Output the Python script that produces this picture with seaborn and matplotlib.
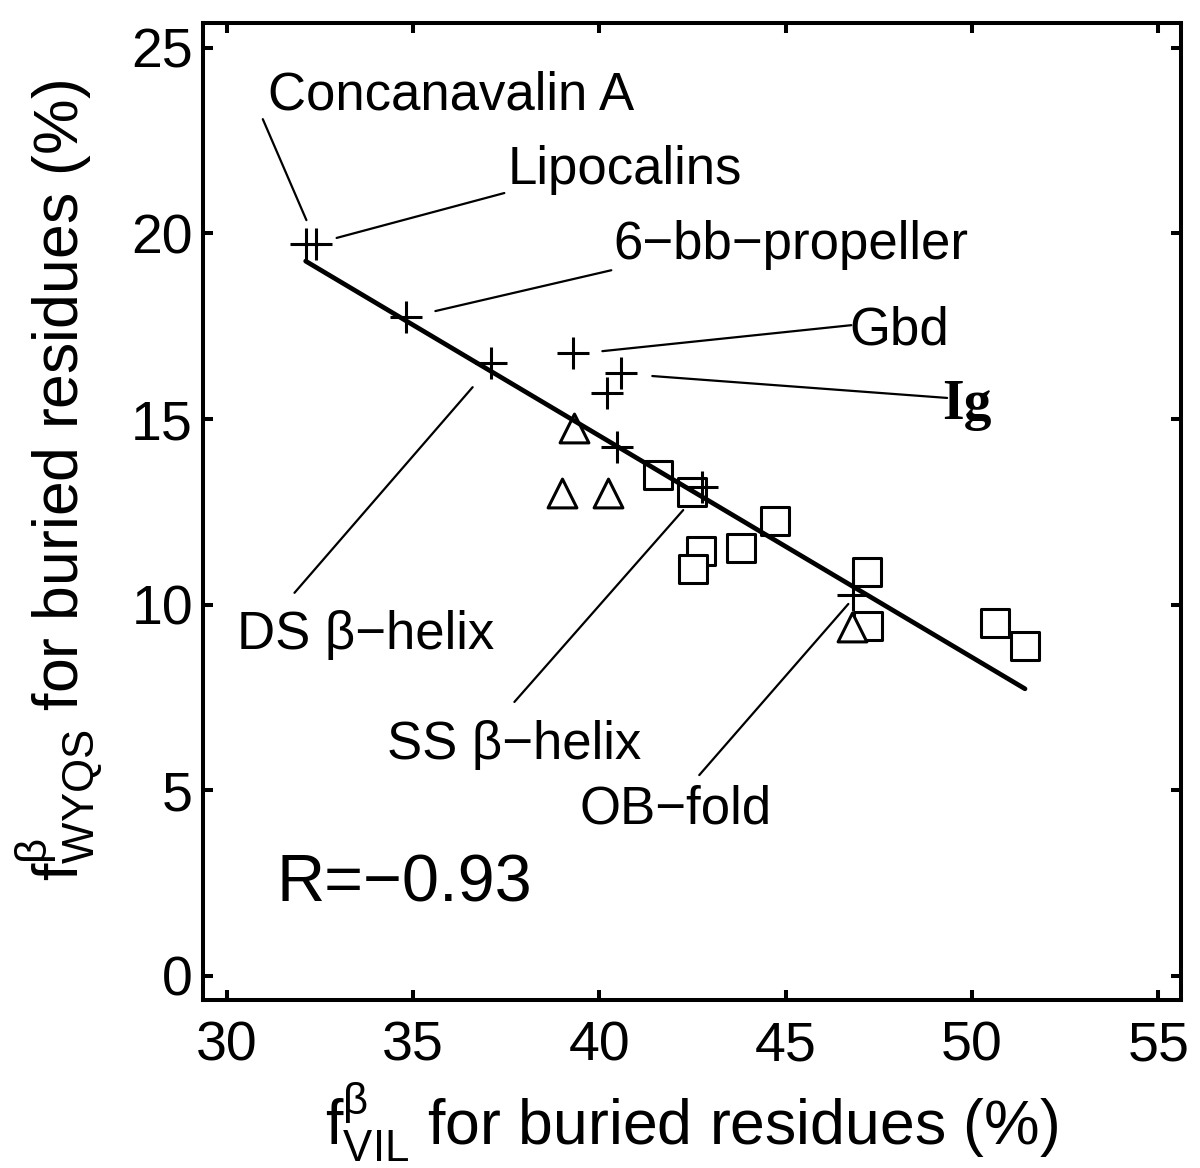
import numpy as np
import pandas as pd
import matplotlib
matplotlib.use('Agg')
import matplotlib.pyplot as plt
import seaborn as sns

# beta-sheet proteins
plus_x = [32.12, 32.39, 34.80, 37.10, 39.28, 40.59, 40.21, 40.46, 42.76, 46.81]
plus_y = [19.71, 19.71, 17.75, 16.51, 16.78, 16.24, 15.70, 14.25, 13.17, 10.26]

tri_x = [39.33, 39.01, 40.24, 46.78]
tri_y = [14.76, 13.00, 13.00, 9.40]

sq_x = [41.58, 42.49, 42.73, 42.52, 43.81, 44.72, 47.19, 47.21, 50.62, 51.42]
sq_y = [13.49, 13.04, 11.45, 10.96, 11.53, 12.25, 10.88, 9.43, 9.51, 8.89]

# labels: text, text position, end of leader line at text side, end at point side
labels = ['Concanavalin A', 'Lipocalins', '6\u2212bb\u2212propeller', 'Gbd', 'Ig',
          'DS \u03b2\u2212helix', 'SS \u03b2\u2212helix', 'OB\u2212fold']
label_pos = [(36.03, 23.73), (40.67, 21.71), (45.15, 19.69), (48.04, 17.40), (49.87, 15.38),
             (33.73, 9.18), (37.72, 6.22), (42.04, 4.47)]
leader_from = [(30.97, 23.08), (37.45, 21.09), (40.32, 19.01), (46.76, 17.53), (49.33, 15.57),
               (31.82, 10.32), (37.72, 7.38), (42.68, 5.41)]
leader_to = [(32.14, 20.36), (32.95, 19.88), (35.60, 17.91), (40.08, 16.83), (41.42, 16.16),
             (36.60, 15.86), (42.25, 12.55), (46.68, 10.02)]

r_text = 'R=\u22120.93'

sns.set_theme(style='ticks')
plt.rcParams['font.family'] = ['Liberation Sans', 'DejaVu Sans']
plt.rcParams['text.color'] = 'black'
plt.rcParams['axes.labelcolor'] = 'black'
plt.rcParams['xtick.color'] = 'black'
plt.rcParams['ytick.color'] = 'black'
plt.rcParams['mathtext.fontset'] = 'custom'
plt.rcParams['mathtext.rm'] = 'Liberation Sans'
plt.rcParams['mathtext.it'] = 'Liberation Sans:italic'
plt.rcParams['mathtext.bf'] = 'Liberation Sans:bold'

fig = plt.figure(figsize=(12, 11.68), dpi=100)
ax = fig.add_axes([0.169, 0.1438, 0.815, 0.8365])

all_df = pd.DataFrame({'x': plus_x + tri_x + sq_x, 'y': plus_y + tri_y + sq_y})

sns.scatterplot(x=sq_x, y=sq_y, marker='s', s=410, color='white', edgecolor='black',
                linewidth=2.2, ax=ax, zorder=2)
sns.scatterplot(x=tri_x, y=tri_y, marker='^', s=430, color='white', edgecolor='black',
                linewidth=2.2, ax=ax, zorder=3)
sns.regplot(data=all_df, x='x', y='y', scatter=False, ci=None, truncate=True,
            line_kws=dict(color='black', lw=3.4, zorder=4), ax=ax)
sns.scatterplot(x=plus_x, y=plus_y, marker='+', s=530, color='black',
                linewidth=2.2, ax=ax, zorder=5)

for txt, pos, p0, p1 in zip(labels, label_pos, leader_from, leader_to):
    ax.plot([p0[0], p1[0]], [p0[1], p1[1]], color='black', lw=1.6, zorder=1)
    if txt == 'Ig':
        ax.text(pos[0], pos[1], txt, ha='center', va='center', fontsize=40,
                family=['Liberation Serif', 'DejaVu Serif'], fontweight='bold')
    else:
        ax.text(pos[0], pos[1], txt, ha='center', va='center', fontsize=38)

ax.text(34.77, 2.45, r_text, ha='center', va='center', fontsize=48)

ax.set_xlim(29.36, 55.6)
ax.set_ylim(-0.65, 25.67)
ax.set_xticks([30, 35, 40, 45, 50, 55])
ax.set_yticks([0, 5, 10, 15, 20, 25])

for side in ['left', 'right', 'top', 'bottom']:
    ax.spines[side].set_visible(True)
    ax.spines[side].set_linewidth(2.9)
    ax.spines[side].set_color('black')

ax.tick_params(direction='in', length=7.5, width=2.9, top=True, right=True,
               labelsize=40, colors='black')
ax.tick_params(axis='x', pad=15)
ax.tick_params(axis='y', pad=7)

ax.set_xlabel(r'$\mathrm{f^{\beta}_{VIL}}$ for buried residues (%)', fontsize=45)
ax.set_ylabel(r'$\mathrm{f^{\beta}_{WYQS}}$ for buried residues (%)', fontsize=45)
ax.xaxis.set_label_coords(0.5, -0.083)
ax.yaxis.set_label_coords(-0.1, 0.532)

fig.savefig('out.png', dpi=100)
